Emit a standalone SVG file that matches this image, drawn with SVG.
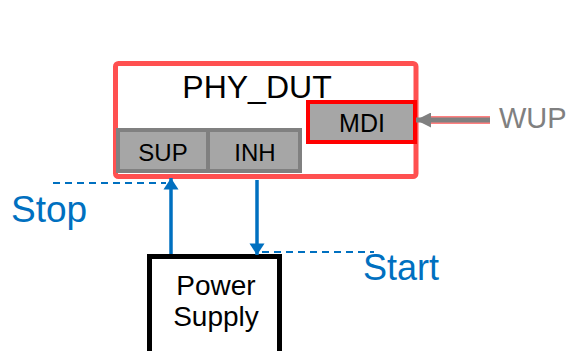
<svg xmlns="http://www.w3.org/2000/svg" width="569" height="351" viewBox="0 0 569 351">
<style>
text{font-family:"Liberation Sans",Arial,sans-serif;text-anchor:middle}
.blk{fill:#000}
.port{fill:#A6A6A6;stroke:#808080;stroke-width:4}
.blue{stroke:#0070C0;stroke-width:3.5;fill:none}
.dash{stroke:#0070C0;stroke-width:2;stroke-dasharray:7 5;fill:none}
.lbl{fill:#0070C0;text-anchor:start}
</style>
<defs>
<marker id="ab" viewBox="0 0 10 10" refX="10" refY="5" markerWidth="3.3" markerHeight="4.3" orient="auto" markerUnits="strokeWidth" preserveAspectRatio="none"><path d="M0,0L10,5L0,10z" fill="#0070C0"/></marker>
<marker id="ag" viewBox="0 0 10 10" refX="10" refY="5" markerWidth="3" markerHeight="3" orient="auto" markerUnits="strokeWidth"><path d="M0,0L10,5L0,10z" fill="#808080"/></marker>
</defs>
<g id="phy_dut">
<rect x="115.5" y="63.5" width="300.5" height="113" rx="3" fill="#fff" stroke="#FF5050" stroke-width="5"/>
<text x="257" y="98" font-size="32" class="blk">PHY_DUT</text>
</g>
<g id="sup">
<rect class="port" x="118" y="130" width="90" height="41"/>
<text x="163" y="161" font-size="24" class="blk">SUP</text>
</g>
<g id="inh">
<rect class="port" x="208" y="130" width="92" height="41"/>
<text x="255" y="161" font-size="24" class="blk">INH</text>
</g>
<g id="mdi">
<rect x="308" y="102" width="107" height="40" fill="#A6A6A6" stroke="#FF0000" stroke-width="4"/>
<text x="362" y="132" font-size="25" class="blk">MDI</text>
</g>
<g id="power_supply">
<rect x="149.5" y="256.5" width="130" height="100" fill="#fff" stroke="#000" stroke-width="5"/>
<text x="216" y="295" font-size="28" class="blk">Power</text>
<text x="216" y="326" font-size="28" class="blk">Supply</text>
</g>
<g id="labels">
<text x="11" y="222" font-size="37" class="lbl">Stop</text>
<text x="363" y="280" font-size="36" class="lbl">Start</text>
<text x="499" y="128" font-size="29" fill="#808080" style="text-anchor:start">WUP</text>
</g>
<g id="connectors">
<line class="dash" x1="53" y1="183" x2="166" y2="183"/>
<line class="dash" x1="262" y1="252" x2="374" y2="252"/>
<line class="blue" x1="171" y1="254" x2="171" y2="178" marker-end="url(#ab)"/>
<line class="blue" x1="257" y1="180" x2="257" y2="255" marker-end="url(#ab)"/>
<line x1="490" y1="120" x2="430" y2="120" stroke="#FF8080" stroke-width="8"/>
<line x1="490" y1="120" x2="416" y2="120" stroke="#808080" stroke-width="5" marker-end="url(#ag)"/>
</g>
</svg>
